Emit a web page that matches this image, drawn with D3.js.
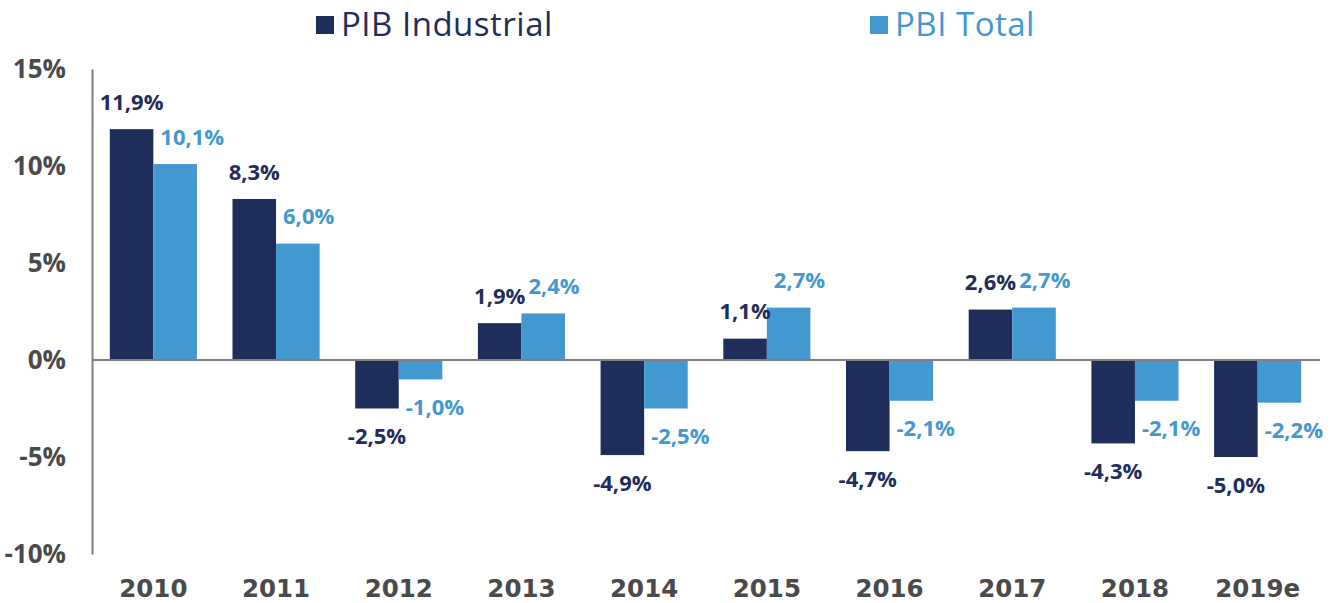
<!DOCTYPE html>
<html>
<head>
<meta charset="utf-8">
<title>PIB Industrial vs PBI Total</title>
<script src="https://cdn.jsdelivr.net/npm/d3@7"></script>
<style>
  body { margin: 0; background: #fff; }
  svg text { font-family: "Open Sans", "DejaVu Sans", sans-serif; }
</style>
</head>
<body>
<div id="chart"></div>
<script>
// data
var years = ["2010", "2011", "2012", "2013", "2014", "2015", "2016", "2017", "2018", "2019e"];
var pibIndustrial = [11.9, 8.3, -2.5, 1.9, -4.9, 1.1, -4.7, 2.6, -4.3, -5.0];
var pbiTotal = [10.1, 6.0, -1.0, 2.4, -2.5, 2.7, -2.1, 2.7, -2.1, -2.2];
var seriesNames = ["PIB Industrial", "PBI Total"];
var yTicks = [-10, -5, 0, 5, 10, 15];

var colors = { "PIB Industrial": "#1f2d5b", "PBI Total": "#4398cf" };
var width = 1340, height = 603;

var svg = d3.select("#chart").append("svg")
    .attr("width", width)
    .attr("height", height);

var x0 = d3.scaleBand()
    .domain(years)
    .range([92, 1319])
    .paddingInner(0.29)
    .paddingOuter(0.145);

var x1 = d3.scaleBand()
    .domain(seriesNames)
    .range([0, x0.bandwidth()]);

var y = d3.scaleLinear()
    .domain([-10, 15])
    .range([554, 69]);

var fmt = function(v) { return v.toFixed(1).replace(".", ",") + "%"; };

// y axis
var yAxis = svg.append("g")
    .attr("transform", "translate(92,0)")
    .call(d3.axisLeft(y).tickValues(yTicks).tickSize(0).tickSizeOuter(0).tickPadding(26)
        .tickFormat(function(d) { return d + "%"; }));
yAxis.select(".domain").attr("stroke", "#7f7f7f").attr("stroke-width", 2);
yAxis.selectAll("text")
    .attr("fill", "#4a4a4a")
    .style("font-size", "26px")
    .style("font-weight", 700);

// x axis labels
var xAxis = svg.append("g")
    .attr("transform", "translate(0,597)")
    .call(d3.axisBottom(x0).tickSize(0).tickPadding(0));
xAxis.select(".domain").remove();
xAxis.selectAll("text")
    .attr("dy", 0)
    .attr("fill", "#4a4a4a")
    .style("font-family", "'DejaVu Sans', sans-serif")
    .style("font-size", "24.5px")
    .style("font-weight", 700);

// bars
var rows = years.map(function(yr, i) {
    return { year: yr, values: [
        { key: "PIB Industrial", value: pibIndustrial[i] },
        { key: "PBI Total", value: pbiTotal[i] }
    ] };
});

var groups = svg.append("g").selectAll("g")
    .data(rows)
    .enter().append("g")
    .attr("transform", function(d) { return "translate(" + x0(d.year) + ",0)"; });

groups.selectAll("rect")
    .data(function(d) { return d.values; })
    .enter().append("rect")
    .attr("x", function(d) { return x1(d.key); })
    .attr("width", x1.bandwidth())
    .attr("y", function(d) { return y(Math.max(0, d.value)); })
    .attr("height", function(d) { return Math.abs(y(d.value) - y(0)); })
    .attr("fill", function(d) { return colors[d.key]; });

// value labels
groups.selectAll("text.val")
    .data(function(d) { return d.values; })
    .enter().append("text")
    .attr("class", "val")
    .attr("x", function(d) {
        return d.key === "PIB Industrial" ? x1(d.key) + x1.bandwidth() / 2 : x1(d.key) + 7;
    })
    .attr("y", function(d) { return d.value >= 0 ? y(d.value) - 27 : y(d.value) + 28; })
    .attr("dy", "0.35em")
    .attr("text-anchor", function(d) { return d.key === "PIB Industrial" ? "middle" : "start"; })
    .attr("fill", function(d) { return colors[d.key]; })
    .style("font-size", "22px")
    .style("font-weight", 700)
    .text(function(d) { return fmt(d.value); });

// zero line
svg.append("line")
    .attr("x1", 92).attr("x2", 1320)
    .attr("y1", y(0)).attr("y2", y(0))
    .attr("stroke", "#7f7f7f")
    .attr("stroke-width", 2);

// legend
var legendX = [316, 870];
var legend = svg.append("g").selectAll("g")
    .data(seriesNames)
    .enter().append("g")
    .attr("transform", function(d, i) { return "translate(" + legendX[i] + ",0)"; });
legend.append("rect")
    .attr("x", 0).attr("y", 16)
    .attr("width", 18).attr("height", 18)
    .attr("fill", function(d) { return colors[d]; });
legend.append("text")
    .attr("x", 25).attr("y", 36)
    .attr("fill", function(d) { return colors[d]; })
    .style("font-size", "33px")
    .style("font-weight", 500)
    .style("letter-spacing", "0.5px")
    .text(function(d) { return d; });
</script>
</body>
</html>
